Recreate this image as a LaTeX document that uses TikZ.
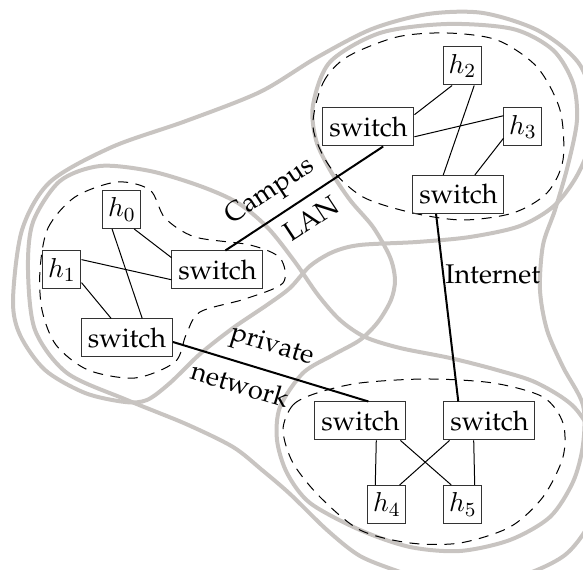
\documentclass[tikz,border=0pt]{standalone}
\usepackage[T1]{fontenc}
\renewcommand{\rmdefault}{ppl}
\usepackage{xcolor}
\usepackage{tikz}
\usetikzlibrary{positioning,calc}
\definecolor{cloud}{RGB}{200,196,193}

\begin{document}
\begin{tikzpicture}[x=0.4pt, y=-0.4pt,
    every node/.style={font=\fontsize{10.8}{13}\selectfont},
    box/.style={draw=black!80, rectangle, minimum height=15.2pt, inner sep=2pt},
    sw/.style={box, minimum width=36.4pt},
    host/.style={box, minimum width=15.2pt},
    trunk/.style={thick},
    cloudline/.style={cloud, line width=1.6pt},
    site/.style={dash pattern=on 4pt off 3pt},
    tag/.style={sloped, inner sep=4pt}]
    \useasboundingbox (0,0) rectangle (583,570);
    \clip (0,0) rectangle (583,570);

    % campus LAN, private network, internet
    \draw[cloudline] plot[smooth cycle] coordinates {(13,300) (22,230) (50,182) (112,147) (186,121) (260,92) (316,58) (372,29) (428,14) (483,13) (539,31) (580,65) (596,120) (580,170) (555,205) (520,226) (470,237) (417,242) (360,245) (333,252) (310,266) (290,288) (267,305) (233,328) (200,354) (170,383) (147,400) (125,402) (85,393) (45,370) (20,335)};
    \draw[cloudline] plot[smooth cycle] coordinates {(28,270) (33,222) (60,181) (100,166) (150,171) (200,186) (238,203) (268,228) (295,262) (318,295) (340,320) (365,337) (400,348) (450,358) (497,370) (537,383) (575,408) (598,450) (598,505) (565,555) (500,582) (430,582) (400,572) (360,556) (327,530) (290,494) (262,470) (233,447) (186,424) (127,400) (67,373) (35,330)};
    \draw[cloudline] plot[smooth cycle] coordinates {(313,105) (330,62) (380,33) (447,24) (513,29) (553,50) (573,83) (577,120) (568,165) (555,210) (543,245) (540,290) (547,330) (563,367) (583,405) (583,445) (573,482) (550,517) (510,540) (460,551) (410,547) (360,530) (310,503) (287,473) (277,440) (280,407) (303,373) (333,355) (360,340) (378,322) (391,300) (395,280) (390,257) (373,227) (350,200) (330,170) (316,140)};

    % the three sites
    \draw[site] plot[smooth cycle] coordinates {(40,270) (48,228) (75,197) (117,182) (150,190) (165,218) (195,237) (250,245) (280,258) (283,283) (245,299) (200,312) (186,335) (175,362) (135,378) (88,370) (56,345) (42,310)};
    \draw[site] plot[smooth cycle] coordinates {(313,127) (323,83) (347,57) (397,37) (447,33) (497,40) (537,67) (560,110) (563,160) (547,193) (513,213) (463,220) (413,213) (363,197) (330,167)};
    \draw[site] plot[smooth cycle] coordinates {(283,430) (293,405) (317,393) (360,383) (427,379) (493,383) (543,397) (563,423) (563,457) (543,497) (510,527) (460,543) (410,543) (360,530) (320,497) (293,463)};

    \node[host] (h0) at (122,209.5) {$h_0$};
    \node[host] (h1) at (62,270) {$h_1$};
    \node[sw] (sA) at (217.5,270) {switch};
    \node[sw] (sB) at (127,338) {switch};
    \node[sw] (sC) at (368.5,127) {switch};
    \node[host] (h2) at (462.5,66) {$h_2$};
    \node[host] (h3) at (523,127) {$h_3$};
    \node[sw] (sD) at (458.5,194.5) {switch};
    \node[sw] (sE) at (360.5,421) {switch};
    \node[sw] (sF) at (489.5,421) {switch};
    \node[host] (h4) at (387,504.5) {$h_4$};
    \node[host] (h5) at (463,504.5) {$h_5$};

    \foreach \a/\b in {h0.-58/sA.165, h1.28/sA.-168, h1.-33/sB.129, h0.-117/sB.52,
                       sC.15/h2.-118, sC.-12/h3.150, h2.-59/sD.128, h3.-150/sD.50,
                       sE.-51/h4.121, sE.-26/h5.121, sF.-154/h4.57, sF.-129/h5.59}
        \draw (\a) -- (\b);

    \draw[trunk] (sA.68) -- (sC.-53)
        node[tag, above, pos=0.37] {Campus}
        node[tag, below, pos=0.47] {LAN};
    \draw[trunk] (sB.-5) -- (sE.68)
        node[tag, above, pos=0.47] {private}
        node[tag, below, pos=0.375] {network};
    \draw[trunk] (sD.-139) -- (sF.148)
        node[pos=0.32, anchor=west, inner sep=0.5pt] {Internet};
\end{tikzpicture}
\end{document}
